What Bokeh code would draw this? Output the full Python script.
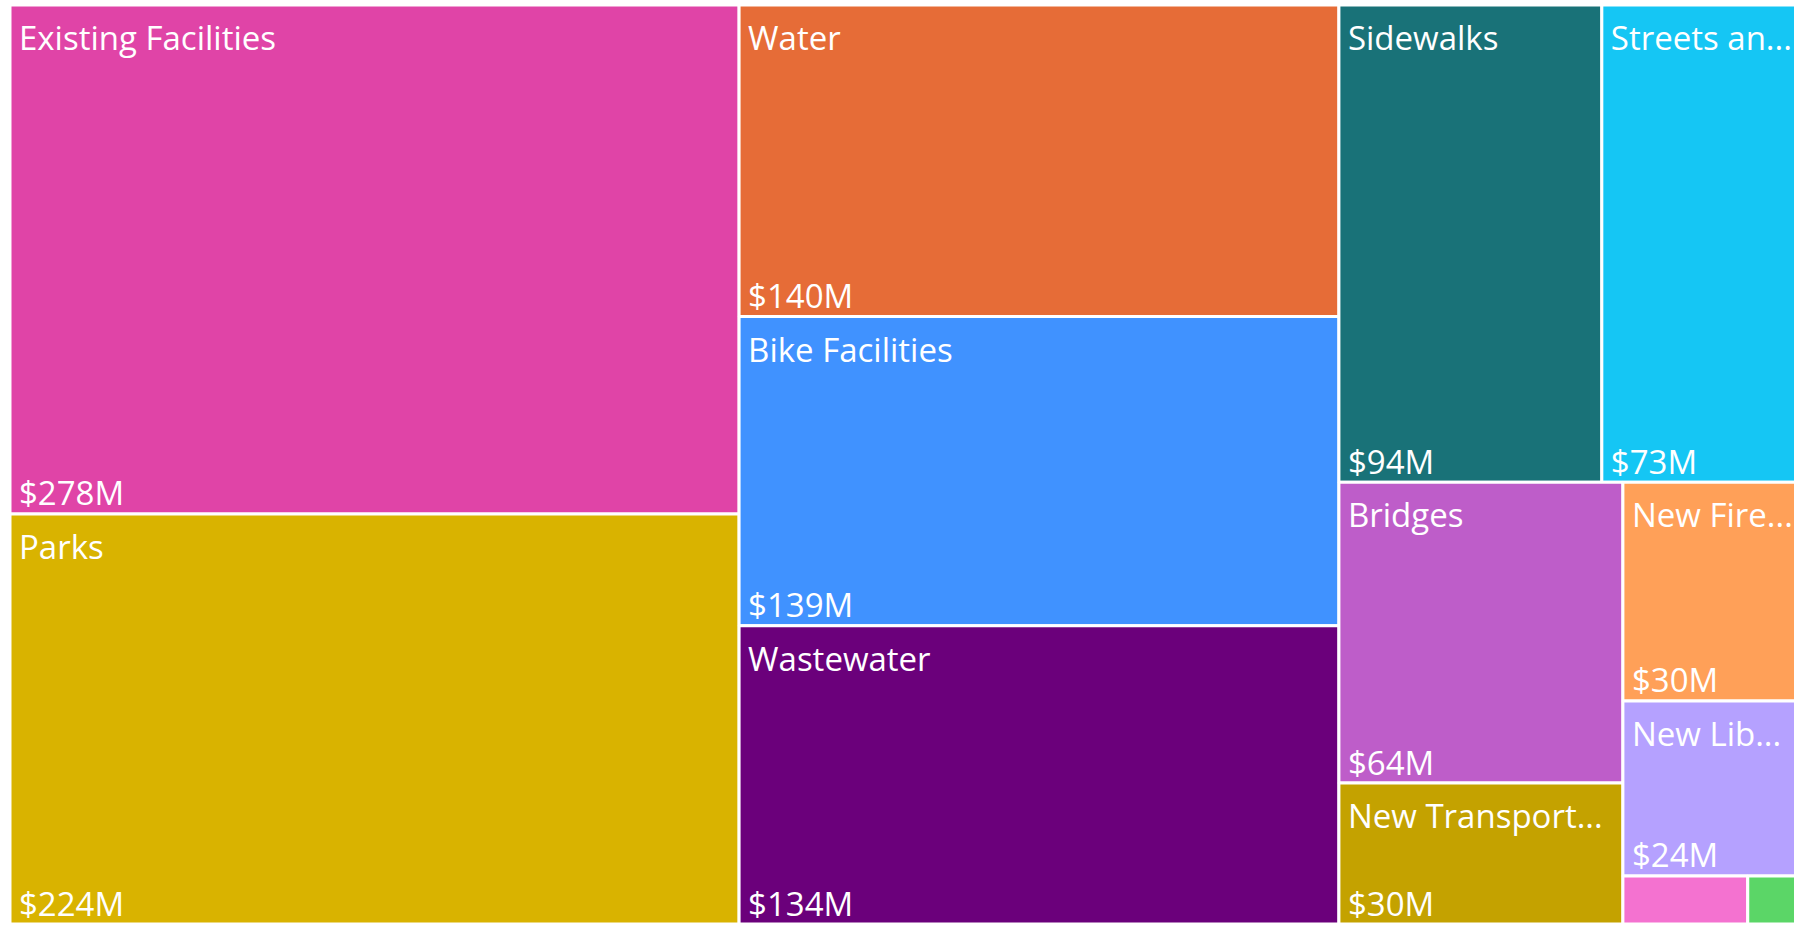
import math
from bokeh.plotting import figure
from bokeh.models import ColumnDataSource, Range1d
from bokeh.core.properties import value
from bokeh.embed import file_html
from bokeh.resources import INLINE

# ---- data (values in $M) ----
labels = ["Existing Facilities", "Parks", "Water", "Bike Facilities", "Wastewater",
          "Sidewalks", "Streets an...", "Bridges", "New Transport...", "New Fire...",
          "New Lib...", "Other A", "Other B"]
amounts = [278, 224, 140, 139, 134, 94, 73, 64, 30, 30, 24, 4.5, 2.1]
colors = ["#E044A7", "#D9B300", "#E66C37", "#4092FF", "#6B007B",
          "#197278", "#15C6F4", "#BE5DC9", "#C4A200", "#FFA058",
          "#B5A1FF", "#F472D0", "#5BD667"]

# ---- layout area (screen pixel coordinates; chart extends slightly past the right edge) ----
X0, Y0, X1, Y1 = 9.5, 4.5, 1805.5, 923.5
PHI = (1 + math.sqrt(5)) / 2


def squarify(vals, x0, y0, x1, y1, ratio=PHI):
    """d3-style squarified treemap; y grows downward."""
    rects = [None] * len(vals)
    n = len(vals)
    total = float(sum(vals))
    i0 = i1 = 0
    while i0 < n:
        dx, dy = x1 - x0, y1 - y0
        s = vals[i1]; i1 += 1
        mn = mx = s
        alpha = max(dy / dx, dx / dy) / (total * ratio)
        beta = s * s * alpha
        min_ratio = max(mx / beta, beta / mn)
        while i1 < n:
            v = vals[i1]
            s += v
            mn = min(mn, v); mx = max(mx, v)
            beta = s * s * alpha
            nr = max(mx / beta, beta / mn)
            if nr > min_ratio:
                s -= v
                break
            min_ratio = nr
            i1 += 1
        idx = list(range(i0, i1))
        if dx < dy:  # row along the top
            h = dy * s / total
            xx = x0
            for k in idx:
                w = dx * vals[k] / s
                rects[k] = (xx, y0, xx + w, y0 + h)
                xx += w
            y0 += h
        else:  # column along the left
            w = dx * s / total
            yy = y0
            for k in idx:
                h = dy * vals[k] / s
                rects[k] = (x0, yy, x0 + w, yy + h)
                yy += h
            x0 += w
        total -= s
        i0 = i1
    return rects


rects = squarify(amounts, X0, Y0, X1, Y1)
left = [r[0] for r in rects]
top = [r[1] for r in rects]
right = [r[2] for r in rects]
bottom = [r[3] for r in rects]

src = ColumnDataSource(dict(left=left, right=right, top=top, bottom=bottom, color=colors,
                            name=labels, amount=amounts))

p = figure(width=1794, height=925, x_range=Range1d(0, 1794), y_range=Range1d(925, 0),
           output_backend="svg", toolbar_location=None, min_border=0)
p.axis.visible = False
p.grid.visible = False
p.outline_line_color = None
p.background_fill_color = "white"
p.border_fill_color = "white"

p.quad(left="left", right="right", top="top", bottom="bottom", source=src,
       fill_color="color", line_color="white", line_width=3)

# labels only where the cell is large enough
cx, cy, ct, vx, vy, vt = [], [], [], [], [], []
for lab, amt, l, t, b in zip(labels, amounts, left, top, bottom):
    if b - t < 80:
        continue
    cx.append(l + 9); cy.append(t + 32.5); ct.append(lab)
    vx.append(l + 9); vy.append(b - 21); vt.append(f"${amt:.0f}M")

p.text(x=cx, y=cy, text=ct, text_font=value("Open Sans"), text_font_size="33px",
       text_color="white", text_baseline="alphabetic", text_align="left")
p.text(x=vx, y=vy, text=vt, text_font=value("Open Sans"), text_font_size="33px",
       text_color="white", text_baseline="alphabetic", text_align="left")

open("out.html", "w").write(file_html(p, INLINE))
